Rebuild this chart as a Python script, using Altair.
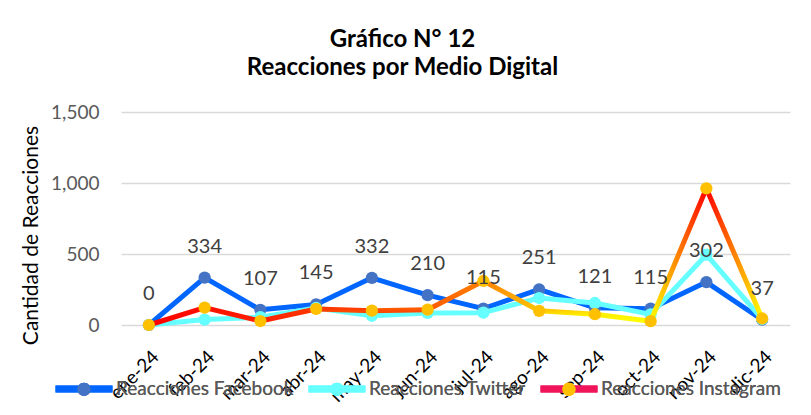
import altair as alt
import pandas as pd

months = ["ene-24", "feb-24", "mar-24", "abr-24", "may-24", "jun-24",
          "jul-24", "ago-24", "sep-24", "oct-24", "nov-24", "dic-24"]
facebook = [0, 334, 107, 145, 332, 210, 115, 251, 121, 115, 302, 37]
twitter = [0, 38, 55, 120, 65, 85, 87, 190, 155, 75, 495, 42]
instagram = [0, 122, 28, 113, 101, 108, 310, 100, 76, 27, 962, 46]
series_names = ["Reacciones Facebook", "Reacciones Twitter", "Reacciones Instagram"]

# styles
line_colors = ["#0066FF", "#66FFFF", "#F0145A"]
marker_colors = ["#4472C4", "#66FFFF", "#FFC000"]
ig_colors = ["#FF0000", "#FF1000", "#FF2000", "#FF3800", "#FF4800", "#FF5A00",
             "#FF8000", "#FFC800", "#FFEE00", "#FFFF00", "#FF0000", "#FFFF00"]
FONT = "Lato"

rows = []
for name, vals in zip(series_names, [facebook, twitter, instagram]):
    for i, (m, v) in enumerate(zip(months, vals)):
        rows.append({"month": m, "idx": i, "value": v, "series": name, "serie": name})
df = pd.DataFrame(rows)

x_enc = alt.X("month:N", sort=months,
              scale=alt.Scale(type="point", padding=0.5),
              axis=alt.Axis(title=None, labelAngle=-45, labelFont=FONT, labelFontSize=19,
                            labelColor="#000000", ticks=False, domain=False, grid=False,
                            labelPadding=22))
y_enc = alt.Y("value:Q", scale=alt.Scale(domain=[0, 1500], nice=False),
              axis=alt.Axis(title="Cantidad de Reacciones", values=[0, 500, 1000, 1500],
                            format=",.0f", labelFont=FONT, labelFontSize=19, labelColor="#595959",
                            ticks=False, domain=False, labelPadding=22,
                            gridColor="#D9D9D9", gridWidth=1.5,
                            titleFont=FONT, titleFontSize=21, titleFontWeight="normal",
                            titleColor="#000000", titleAngle=-90, titleX=-84, titleY=123,
                            titleAlign="center", titleBaseline="alphabetic"))

base = alt.Chart(df).encode(x=x_enc, y=y_enc)

legend_common = dict(title=None, orient="none", legendX=-69, legendY=245, direction="horizontal",
                     symbolSize=3249, labelFont=FONT, labelFontSize=19, labelOffset=0,
                     columnPadding=0, symbolOpacity=1, labelLimit=400, symbolStrokeWidth=7)

color_scale = alt.Scale(domain=series_names, range=line_colors)
fill_scale = alt.Scale(domain=series_names, range=marker_colors)

line_legend = alt.Legend(symbolType="M-1,0L1,0", labelColor="#595959", **legend_common)
marker_legend = alt.Legend(
    symbolType="M-1,0L1,0M0.23,0A0.23,0.23 0 1,1 -0.23,0A0.23,0.23 0 1,1 0.23,0Z",
    symbolStrokeColor="transparent", labelOpacity=0, labelColor="#595959", **legend_common)


def line_layer(name):
    return base.transform_filter(alt.datum.series == name).mark_line(
        strokeWidth=5, strokeCap="round", strokeJoin="round"
    ).encode(color=alt.Color("series:N", scale=color_scale, legend=line_legend))


def point_layer(name):
    return base.transform_filter(alt.datum.serie == name).mark_circle(
        size=150, opacity=1
    ).encode(fill=alt.Fill("serie:N", scale=fill_scale, legend=marker_legend))


layers = [line_layer(series_names[0]), point_layer(series_names[0]),
          line_layer(series_names[1]), point_layer(series_names[1])]

ig = series_names[2]
for i in range(len(months) - 1):
    rising = instagram[i + 1] > instagram[i]
    grad = alt.LinearGradient(
        gradient="linear",
        stops=[alt.GradientStop(color=ig_colors[i], offset=0),
               alt.GradientStop(color=ig_colors[i + 1], offset=1)],
        x1=0, x2=1, y1=1 if rising else 0, y2=0 if rising else 1)
    seg = base.transform_filter(
        (alt.datum.series == ig) & (alt.datum.idx >= i) & (alt.datum.idx <= i + 1)
    ).mark_line(strokeWidth=5, strokeCap="round", stroke=grad)
    layers.append(seg)

layers.append(point_layer(ig))

labels = base.transform_filter(alt.datum.series == series_names[0]).mark_text(
    dy=-31, font=FONT, fontSize=20, color="#404040"
).encode(text=alt.Text("value:Q", format=","))
layers.append(labels)

chart = alt.layer(*layers).properties(
    width=669, height=213,
    padding={"left": 113, "top": 104, "right": 10, "bottom": 80},
    autosize=alt.AutoSizeParams(type="none"),
    title=alt.TitleParams(text=["Gráfico N° 12", "Reacciones por Medio Digital"],
                          font=FONT, fontSize=24, fontWeight="bold", color="#000000",
                          anchor="middle", dx=-53, offset=23, lineHeight=28),
    background="white",
).resolve_scale(color="independent", fill="independent").configure_view(stroke=None)

chart.save("out.html", embed_options={"renderer": "svg", "actions": False})
